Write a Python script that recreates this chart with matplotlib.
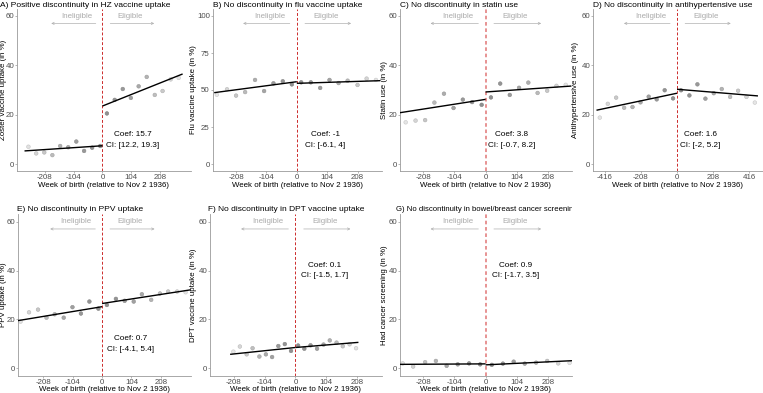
import numpy as np
import matplotlib
matplotlib.use("Agg")
import matplotlib.pyplot as plt
from matplotlib.transforms import Bbox, TransformedBbox

W, H = 763, 393
plt.rcParams['font.family'] = ['Liberation Sans', 'DejaVu Sans']

# ---------------------------------------------------------------- data
# binned means (x = week of birth relative to cutoff, y = %)
a_x = [-266, -238, -209, -180, -152, -123, -94, -66, -37, -8,
       16, 44, 73, 102, 130, 159, 188, 216, 245, 274]
a_y = [7.0, 4.3, 4.7, 3.6, 7.3, 6.8, 9.1, 5.3, 6.6, 7.3,
       20.5, 26.0, 30.4, 26.8, 31.5, 35.3, 28.0, 29.6, 34.3, 34.9]
b_x = [-274, -239, -208, -177, -143, -112, -80, -48, -17,
       15, 48, 80, 112, 143, 174, 208, 239, 271]
b_y = [46.8, 50.5, 46.2, 48.6, 56.8, 49.3, 54.5, 55.9, 53.8,
       55.2, 55.2, 51.4, 56.8, 54.7, 56.3, 53.4, 57.7, 56.8]
c_x = [-267, -234, -202, -171, -139, -107, -76, -45, -13,
       18, 49, 81, 112, 143, 174, 206, 237, 268]
c_y = [16.9, 17.6, 17.8, 24.9, 28.5, 22.7, 26.1, 25.1, 24.0,
       27.0, 32.6, 28.0, 30.9, 33.0, 28.8, 29.7, 31.7, 32.1]
d_x = [-444, -398, -350, -304, -256, -210, -163, -117, -71, -23,
       23, 71, 117, 163, 211, 257, 305, 351, 399, 447]
d_y = [18.8, 24.4, 26.9, 22.8, 23.1, 25.0, 27.3, 26.2, 29.9, 26.6,
       29.9, 27.8, 32.3, 26.5, 28.7, 30.4, 27.2, 29.7, 27.2, 24.9]
e_x = [-289, -259, -227, -197, -168, -136, -105, -75, -45, -13,
       17, 49, 80, 112, 141, 174, 205, 234, 266, 296]
e_y = [19.1, 22.9, 24.0, 20.7, 22.1, 20.7, 25.0, 22.4, 27.3, 24.4,
       25.9, 28.4, 27.6, 27.3, 30.3, 28.0, 30.6, 31.4, 31.4, 31.1]
f_x = [-210, -188, -165, -145, -122, -100, -79, -58, -36, -15,
       9, 30, 51, 73, 95, 116, 139, 160, 183, 205]
f_y = [6.8, 8.9, 5.7, 8.2, 4.8, 5.7, 4.6, 9.1, 9.9, 7.1,
       9.3, 8.0, 9.4, 8.0, 9.7, 11.4, 10.5, 9.0, 9.8, 8.2]
g_x = [-277, -242, -202, -166, -130, -93, -55, -18,
       21, 58, 94, 131, 169, 206, 243, 281]
g_y = [2.0, 0.7, 2.5, 3.0, 1.0, 1.6, 2.0, 1.6,
       1.4, 1.9, 2.7, 1.9, 2.3, 3.0, 2.0, 2.2]

# fitted lines: [x_start, x_end], [y_start, y_end] on each side of cutoff
a_fit = ([-280, 0], [5.3, 7.4], [0, 288], [23.5, 36.5])
b_fit = ([-283, 0], [48.2, 55.6], [0, 285], [54.5, 56.3])
c_fit = ([-286, 0], [20.8, 26.2], [0, 287], [29.2, 31.6])
d_fit = ([-463, 0], [21.8, 28.7], [0, 465], [30.3, 27.6])
e_fit = ([-298, 0], [19.5, 25.2], [0, 314], [26.5, 32.1])
f_fit = ([-221, 0], [5.7, 8.5], [0, 213], [8.5, 10.6])
g_fit = ([-286, 0], [1.6, 1.8], [0, 289], [1.4, 3.1])

coefs = ['15.7', '-1', '3.8', '1.6', '0.7', '0.1', '0.9']
cis = ['[12.2, 19.3]', '[-6.1, 4]', '[-0.7, 8.2]', '[-2, 5.2]',
       '[-4.1, 5.4]', '[-1.5, 1.7]', '[-1.7, 3.5]']

titles = ['A) Positive discontinuity in HZ vaccine uptake',
          'B) No discontinuity in flu vaccine uptake',
          'C) No discontinuity in statin use',
          'D) No discontinuity in antihypertensive use',
          'E) No discontinuity in PPV uptake',
          'F) No discontinuity in DPT vaccine uptake',
          'G) No discontinuity in bowel/breast cancer screenings']
ylabels = ['Zoster vaccine uptake (in %)', 'Flu vaccine uptake (in %)',
           'Statin use (in %)', 'Antihypertensive use (in %)',
           'PPV uptake (in %)', 'DPT vaccine uptake (in %)',
           'Had cancer screening (in %)']
xlabel = 'Week of birth (relative to Nov 2 1936)'

ticks_wk = [-208, -104, 0, 104, 208]
ticks_wk_d = [-416, -208, 0, 208, 416]
ticks_pct = [0, 20, 40, 60]
ticks_pct_b = [0, 25, 50, 75, 100]

# ---------------------------------------------------------------- layout (pixels)
row1 = (8.6, 171.4)
row2 = (214.3, 375.6)
panels = [
    dict(x=a_x, y=a_y, fit=a_fit, box=(17, 190.7), row=row1, xlim=(-307, 317),
         tx=0, tfs=6.0, lab=-10.2, cxy=(110, 11.8, 7.4), top=60, xt=ticks_wk, yt=ticks_pct, sc=1.0, cut='dark'),
    dict(x=b_x, y=b_y, fit=b_fit, box=(212.7, 381.5), row=row1, xlim=(-288, 290),
         tx=212.7, tfs=6.0, lab=-15.4, cxy=(97, 19.6, 12.4), top=100, xt=ticks_wk, yt=ticks_pct_b, sc=1.0, cut='dark'),
    dict(x=c_x, y=c_y, fit=c_fit, box=(400, 572), row=row1, xlim=(-286, 289),
         tx=400.5, tfs=6.0, lab=-12.0, cxy=(86, 11.8, 7.4), top=60, xt=ticks_wk, yt=ticks_pct, sc=1.0, cut='light'),
    dict(x=d_x, y=d_y, fit=d_fit, box=(593, 763), row=row1, xlim=(-483, 494),
         tx=592.7, tfs=6.0, lab=-13.7, cxy=(135, 11.8, 7.4), top=60, xt=ticks_wk_d, yt=ticks_pct, sc=1.66, cut='dark'),
    dict(x=e_x, y=e_y, fit=e_fit, box=(18, 190.7), row=row2, xlim=(-298, 314),
         tx=17.3, tfs=6.0, lab=-10.8, cxy=(101, 12.0, 7.5), top=60, xt=ticks_wk, yt=ticks_pct, sc=1.0, cut='dark'),
    dict(x=f_x, y=f_y, fit=f_fit, box=(210, 381.5), row=row2, xlim=(-289, 291),
         tx=208, tfs=6.0, lab=-12.7, cxy=(100, 42, 37.8), top=60, xt=ticks_wk, yt=ticks_pct, sc=1.0, cut='dark'),
    dict(x=g_x, y=g_y, fit=g_fit, box=(400, 572), row=row2, xlim=(-286, 289),
         tx=396, tfs=5.6, lab=-11.7, cxy=(100, 42, 37.8), top=60, xt=ticks_wk, yt=ticks_pct, sc=1.0, cut='light'),
]

fig = plt.figure(figsize=(W / 100, H / 100), dpi=100)
FS = 5.7
grey_txt = '#ababab'

for i, p in enumerate(panels):
    x0, x1 = p['box']
    y0, y1 = p['row']
    ax = fig.add_axes([x0 / W, 1 - y1 / H, (x1 - x0) / W, (y1 - y0) / H])
    top = p['top']
    ax.set_xlim(*p['xlim'])
    ax.set_ylim(-0.05 * top, 1.05 * top)

    # points, lighter further from the cutoff
    xs = np.array(p['x'], dtype=float)
    t = np.abs(xs) / np.abs(xs).max()
    face = [str(0.56 + 0.34 * v ** 1.6) for v in t]
    edge = [str(0.50 + 0.28 * v ** 1.6) for v in t]
    ax.scatter(xs, p['y'], s=7, c=face, edgecolors=edge, linewidths=0.4, zorder=2)

    if p['cut'] == 'dark':
        ax.axvline(0, color='#cc2b2b', lw=0.7, ls=(0, (3, 2)), zorder=1)
    else:
        ax.axvline(0, color='#e58a8a', lw=1.3, ls=(0, (2, 1.5)), zorder=1)

    lx, ly, rx, ry = p['fit']
    ax.plot(lx, ly, color='black', lw=1.0, zorder=3, solid_capstyle='butt')
    ax.plot(rx, ry, color='black', lw=1.0, zorder=3, solid_capstyle='butt')

    # eligibility arrows
    sc = p['sc']
    ay = 0.95 * top
    arr = dict(arrowstyle='->', color='#b0b0b0', lw=0.5, mutation_scale=4,
               shrinkA=0, shrinkB=0)
    ax.annotate('', xy=(-184 * sc, ay), xytext=(-24 * sc, ay), arrowprops=arr)
    ax.annotate('', xy=(186 * sc, ay), xytext=(28 * sc, ay), arrowprops=arr)
    ax.text(-92 * sc, top, 'Ineligible', color=grey_txt, fontsize=FS,
            ha='center', va='center')
    ax.text(100 * sc, top, 'Eligible', color=grey_txt, fontsize=FS,
            ha='center', va='center')

    cx, cy1, cy2 = p['cxy']
    ax.text(cx, cy1, 'Coef: ' + coefs[i], fontsize=FS + 0.2, ha='center', va='center')
    ax.text(cx, cy2, 'CI: ' + cis[i], fontsize=FS + 0.2, ha='center', va='center')

    for side in ['top', 'right']:
        ax.spines[side].set_visible(False)
    for side in ['left', 'bottom']:
        ax.spines[side].set_color('#9a9a9a')
        ax.spines[side].set_linewidth(0.6)
    ax.set_xticks(p['xt'])
    ax.set_xticklabels([str(v) for v in p['xt']])
    ax.set_yticks(p['yt'])
    ax.set_yticklabels([str(v) for v in p['yt']])
    ax.tick_params(length=1.5, width=0.5, color='#9a9a9a', labelsize=FS,
                   labelcolor='#4d4d4d', pad=0.6)
    ax.set_xlabel(xlabel, fontsize=FS, labelpad=0.5)
    ax.set_ylabel(ylabels[i], fontsize=FS)
    ax.yaxis.set_label_coords(p['lab'] / (x1 - x0), 0.5)
    ax.patch.set_alpha(0)

    base = 6.7 if p['row'] is row1 else 211.5
    ttl = fig.text(p['tx'] / W, 1 - base / H, titles[i], fontsize=p['tfs'],
                   ha='left', va='baseline')
    col = int((p['tx'] + 5) // 190.75)
    clip = TransformedBbox(Bbox([[col * 190.75 / W, 0], [(col + 1) * 190.75 / W, 1]]),
                           fig.transFigure)
    ttl.set_clip_box(clip)
    ttl.set_clip_on(True)

fig.savefig('out.png', dpi=100)
